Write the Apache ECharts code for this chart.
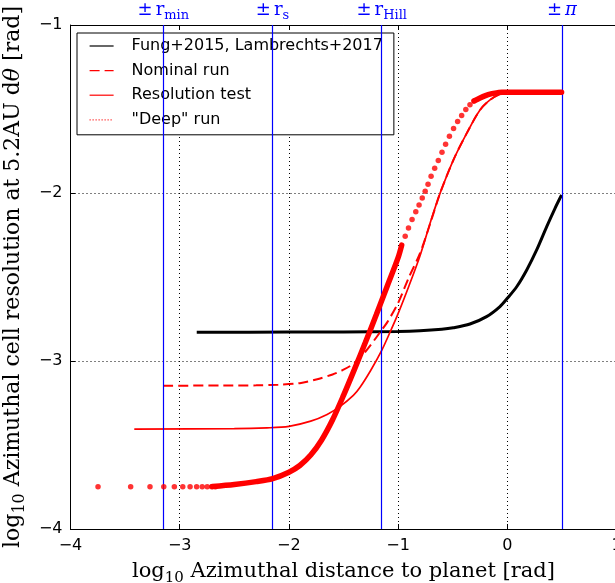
<!DOCTYPE html>
<html>
<head>
<meta charset="utf-8">
<title>Azimuthal cell resolution</title>
<script src="https://cdn.jsdelivr.net/npm/echarts@6/dist/echarts.min.js"></script>
<style>
  html, body { margin: 0; padding: 0; background: #fff; }
  #chart { width: 615px; height: 583px; }
</style>
</head>
<body>
<div id="chart"></div>
<script>
// ---- axis ticks ----
const xTickValues = [-4, -3, -2, -1, 0, 1];
const xTickLabels = ['\u22124', '\u22123', '\u22122', '\u22121', '0', '1'];
const yTickValues = [-4, -3, -2, -1];
const yTickLabels = ['\u22124', '\u22123', '\u22122', '\u22121'];

// ---- reference distances (log10 rad) ----
const refPos = [-3.15, -2.148, -1.15, 0.497];
const refLabels = [
  '{pm|\u00b1}{r|r}{s|min}',
  '{pm|\u00b1}{r|r}{s|s}',
  '{pm|\u00b1}{r|r}{s|Hill}',
  '{pm|\u00b1}{it|\u03c0}'
];

// ---- legend names ----
const nameFung = 'Fung+2015, Lambrechts+2017';
const nameNominal = 'Nominal run';
const nameRes = 'Resolution test';
const nameDeep = '"Deep" run';

// ---- Fung+2015 / Lambrechts+2017 grid ----
const fungX = [-2.844, -2.0, -1.5, -1.0, -0.8, -0.6, -0.495, -0.342, -0.19, -0.067, 0.0, 0.086, 0.178, 0.269, 0.361, 0.437, 0.497];
const fungY = [-2.829, -2.828, -2.827, -2.824, -2.820, -2.811, -2.802, -2.780, -2.736, -2.676, -2.627, -2.558, -2.458, -2.339, -2.200, -2.091, -2.012];

// ---- nominal run ----
const nominalX = [-3.15, -2.6, -2.3, -2.1, -1.9, -1.75, -1.6, -1.5, -1.4, -1.3, -1.2, -1.15, -1.1, -1.0, -0.9, -0.8, -0.7, -0.616, -0.494, -0.372, -0.25, -0.158, -0.067, 0.0, 0.497];
const nominalY = [-3.147, -3.146, -3.145, -3.141, -3.132, -3.11, -3.08, -3.052, -3.012, -2.945, -2.86, -2.815, -2.77, -2.655, -2.50, -2.36, -2.17, -2.002, -1.804, -1.645, -1.506, -1.446, -1.411, -1.403, -1.40];

// ---- resolution test ----
const resX = [-3.416, -2.5, -2.2, -2.0, -1.8, -1.65, -1.53, -1.41, -1.35, -1.25, -1.15, -1.07, -1.0, -0.9, -0.8, -0.7, -0.616, -0.494, -0.372, -0.25, -0.158, -0.067, 0.0, 0.497];
const resY = [-3.405, -3.403, -3.398, -3.389, -3.358, -3.318, -3.27, -3.205, -3.158, -3.055, -2.937, -2.823, -2.718, -2.552, -2.375, -2.165, -2.002, -1.804, -1.645, -1.506, -1.446, -1.411, -1.403, -1.40];

// ---- "deep" run: individual cells (sparse inner cells and the steep part) ----
const deepDotX = [-3.748, -3.449, -3.272, -3.146, -3.049, -2.972, -2.905, -2.845, -2.794, -2.748, -2.707, -2.672,
                  -0.935, -0.905, -0.872, -0.838, -0.808, -0.779, -0.752, -0.726, -0.698, -0.665, -0.632, -0.598,
                  -0.565, -0.53, -0.492, -0.455, -0.418, -0.38, -0.342, -0.304];
const deepDotY = [-3.748, -3.748, -3.748, -3.748, -3.748, -3.748, -3.748, -3.748, -3.748, -3.748, -3.748, -3.748,
                  -2.258, -2.208, -2.158, -2.111, -2.071, -2.030, -1.990, -1.948, -1.900, -1.852, -1.806, -1.758,
                  -1.710, -1.662, -1.616, -1.575, -1.538, -1.503, -1.475, -1.452];
// dense cells merge into a continuous band
const deepLowX = [-2.7, -2.5, -2.3, -2.148, -2.0, -1.9, -1.8, -1.7, -1.6, -1.5, -1.4, -1.3, -1.2, -1.1, -1.0, -0.967];
const deepLowY = [-3.747, -3.735, -3.718, -3.70, -3.662, -3.622, -3.56, -3.47, -3.35, -3.205, -3.05, -2.89, -2.725, -2.555, -2.385, -2.31];
const deepTopX = [-0.304, -0.25, -0.2, -0.15, -0.1, -0.05, 0.0, 0.497];
const deepTopY = [-1.452, -1.434, -1.42, -1.41, -1.404, -1.401, -1.40, -1.40];

const zip = (xs, ys) => xs.map((x, i) => [x, ys[i]]);

const RED = '#ff0000';
const BLUE = '#0000ff';
const serif = 'DejaVu Serif';
const sans = 'DejaVu Sans';

const chart = echarts.init(document.getElementById('chart'), null, { renderer: 'canvas' });

const tickFmt = (vals, labels) => v => {
  const i = vals.findIndex(t => Math.abs(t - v) < 1e-9);
  return i >= 0 ? labels[i] : '';
};

const makeNameRich = size => ({
  t: { fontFamily: serif, fontSize: size, color: '#000', verticalAlign: 'bottom', padding: [0, 0, 4, 0] },
  s: { fontFamily: serif, fontSize: Math.round(size * 0.72), color: '#000', verticalAlign: 'bottom' },
  it: { fontFamily: serif, fontSize: size, color: '#000', fontStyle: 'italic', verticalAlign: 'bottom', padding: [0, 0, 4, 0] }
});

const gridLine = { show: true, lineStyle: { color: '#000', width: 1, type: [1, 3] } };
const curveSmooth = 0.3;

const option = {
  animation: false,
  backgroundColor: '#fff',
  grid: { left: 70.5, top: 25, width: 546, height: 504, containLabel: false, outerBoundsMode: 'none' },
  legend: {
    left: 77, top: 33,
    orient: 'vertical',
    itemWidth: 24, itemHeight: 10, itemGap: 8.6,
    padding: [5, 11, 7, 12],
    borderColor: '#000', borderWidth: 1, borderRadius: 0,
    backgroundColor: '#fff',
    itemStyle: { color: 'rgba(0,0,0,0)', borderWidth: 0, opacity: 0 },
    textStyle: { fontFamily: sans, fontSize: 16, color: '#000', padding: [0, 0, 0, 13] },
    data: [
      { name: nameFung, lineStyle: { width: 1.2 } },
      { name: nameNominal, lineStyle: { width: 1.2 } },
      { name: nameRes, lineStyle: { width: 1.2 } },
      { name: nameDeep, lineStyle: { width: 1.2 } }
    ]
  },
  xAxis: [
    {
      type: 'value', min: -4, max: 1, interval: 1, position: 'bottom',
      axisLine: { show: true, onZero: false, lineStyle: { color: '#000', width: 1 } },
      axisTick: { show: true, inside: true, length: 5, lineStyle: { color: '#000' } },
      axisLabel: { formatter: tickFmt(xTickValues, xTickLabels), fontFamily: sans, fontSize: 16, color: '#000', margin: 9 },
      splitLine: gridLine,
      name: '{t|log}{s|10}{t| Azimuthal distance to planet [rad]}',
      nameLocation: 'middle', nameGap: 32,
      nameTextStyle: { fontFamily: serif, fontSize: 21, color: '#000', rich: makeNameRich(21) }
    },
    {
      type: 'value', min: -4, max: 1, interval: 1, position: 'top',
      axisLine: { show: true, onZero: false, lineStyle: { color: '#000', width: 1 } },
      axisTick: { show: true, inside: true, length: 5, lineStyle: { color: '#000' } },
      axisLabel: { show: false },
      splitLine: { show: false }
    }
  ],
  yAxis: [
    {
      type: 'value', min: -4, max: -1, interval: 1, position: 'left',
      axisLine: { show: true, onZero: false, lineStyle: { color: '#000', width: 1 } },
      axisTick: { show: true, inside: true, length: 5, lineStyle: { color: '#000' } },
      axisLabel: { formatter: tickFmt(yTickValues, yTickLabels), fontFamily: sans, fontSize: 16, color: '#000', margin: 8 },
      splitLine: gridLine,
      name: '{t|log}{s|10}{t| Azimuthal cell resolution at 5.2AU d}{it|\u03b8}{t| [rad]}',
      nameLocation: 'middle', nameGap: 42,
      nameTextStyle: { fontFamily: serif, fontSize: 22, color: '#000', rich: makeNameRich(22) }
    }
  ],
  series: [
    {
      // blue reference distances with their labels above the frame
      name: 'refs', type: 'line', data: [], silent: true,
      markLine: {
        silent: true, symbol: ['none', 'none'], animation: false,
        lineStyle: { color: BLUE, width: 1.2, type: 'solid' },
        label: {
          show: true, position: 'end', distance: 3, color: BLUE,
          rich: {
            pm: { fontFamily: serif, fontSize: 18, color: BLUE, verticalAlign: 'bottom', padding: [0, 3, 3, 0] },
            r: { fontFamily: serif, fontSize: 18, color: BLUE, verticalAlign: 'bottom', padding: [0, 0, 3, 0] },
            it: { fontFamily: serif, fontSize: 18, color: BLUE, fontStyle: 'italic', verticalAlign: 'bottom', padding: [0, 0, 3, 0] },
            s: { fontFamily: serif, fontSize: 13, color: BLUE, verticalAlign: 'bottom' }
          }
        },
        emphasis: { disabled: true },
        data: refPos.map((v, i) => ({ xAxis: v, label: { formatter: refLabels[i] } }))
      }
    },
    {
      name: nameFung, type: 'line', data: zip(fungX, fungY),
      symbol: 'none', smooth: curveSmooth,
      lineStyle: { color: '#000', width: 3 }, itemStyle: { color: '#000' }, z: 3
    },
    {
      name: nameNominal, type: 'line', data: zip(nominalX, nominalY),
      symbol: 'none', smooth: curveSmooth,
      lineStyle: { color: RED, width: 2, type: [10, 5] }, itemStyle: { color: RED }, z: 4
    },
    {
      name: nameRes, type: 'line', data: zip(resX, resY),
      symbol: 'none', smooth: curveSmooth,
      lineStyle: { color: RED, width: 1.7 }, itemStyle: { color: RED }, z: 4
    },
    {
      // legend entry for the deep run (drawn by the three series below)
      name: nameDeep, type: 'line', data: [], symbol: 'none',
      lineStyle: { color: RED, width: 1.2, type: [1, 2] }, itemStyle: { color: RED }
    },
    {
      name: 'deepLow', type: 'line', data: zip(deepLowX, deepLowY),
      symbol: 'none', smooth: curveSmooth,
      lineStyle: { color: RED, width: 5.5, cap: 'round' }, z: 5
    },
    {
      name: 'deepCells', type: 'scatter', data: zip(deepDotX, deepDotY),
      symbol: 'circle', symbolSize: 5.5, itemStyle: { color: RED }, z: 5
    },
    {
      name: 'deepTop', type: 'line', data: zip(deepTopX, deepTopY),
      symbol: 'none', smooth: curveSmooth,
      lineStyle: { color: RED, width: 5.5, cap: 'round' }, z: 5
    }
  ]
};

chart.setOption(option);
</script>
</body>
</html>
